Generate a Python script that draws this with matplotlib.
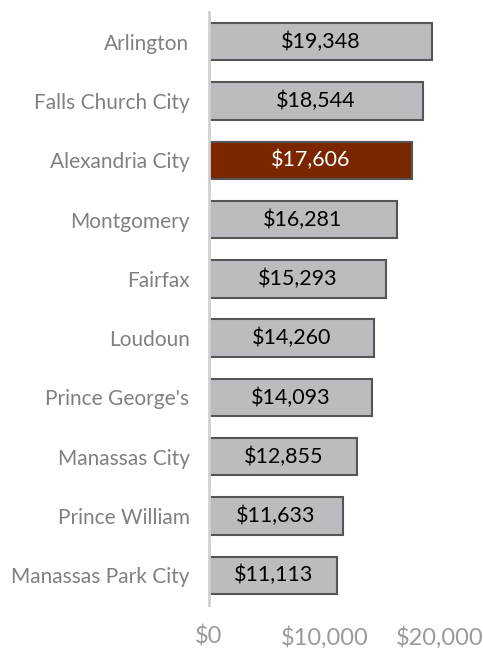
import matplotlib
matplotlib.use('Agg')
from matplotlib import pyplot as plt
from matplotlib.ticker import FuncFormatter

# 各地區數值
COUNTIES = ['Arlington', 'Falls Church City', 'Alexandria City', 'Montgomery',
            'Fairfax', 'Loudoun', "Prince George's", 'Manassas City',
            'Prince William', 'Manassas Park City']
VALUES = [19348, 18544, 17606, 16281, 15293, 14260, 14093, 12855, 11633, 11113]
HIGHLIGHT = 'Alexandria City'
X_TICKS = [0, 10000, 20000]


def main():
    plt.rcParams['font.family'] = ['Lato', 'DejaVu Sans']
    fig = plt.figure(figsize=(4.83, 6.48), dpi=100)
    ax = fig.add_axes([209 / 483, 1 - 605 / 648, 254 / 483, 593 / 648])

    colors = ['#7a2700' if c == HIGHLIGHT else '#bbbcc0' for c in COUNTIES]
    y = list(range(len(COUNTIES)))
    bars = ax.barh(y, VALUES, height=0.63, color=colors,
                   edgecolor='#555555', linewidth=1.5, zorder=2)

    # 在長條中央標示數值
    for b, v, c in zip(bars, VALUES, COUNTIES):
        tc = 'white' if c == HIGHLIGHT else 'black'
        ax.text(v / 2, b.get_y() + b.get_height() / 2, f'${v:,}',
                ha='center', va='center', fontsize=15.5, color=tc)

    ax.set_ylim(len(COUNTIES) - 0.5, -0.5)
    ax.set_xlim(0, 22000)
    ax.set_yticks(y)
    ax.set_yticklabels(COUNTIES)
    ax.set_xticks(X_TICKS)
    ax.xaxis.set_major_formatter(FuncFormatter(lambda v, p: f'${v:,.0f}'))
    ax.tick_params(axis='y', length=0, pad=14, labelsize=15,
                   labelcolor='#808080')
    ax.tick_params(axis='x', length=0, pad=15, labelsize=17,
                   labelcolor='#9a9a9a')

    for s in ['top', 'right', 'bottom']:
        ax.spines[s].set_visible(False)
    ax.spines['left'].set_color('#d0d0d0')
    ax.spines['left'].set_linewidth(2)

    fig.savefig('out.png', dpi=100)


if __name__ == '__main__':
    main()
